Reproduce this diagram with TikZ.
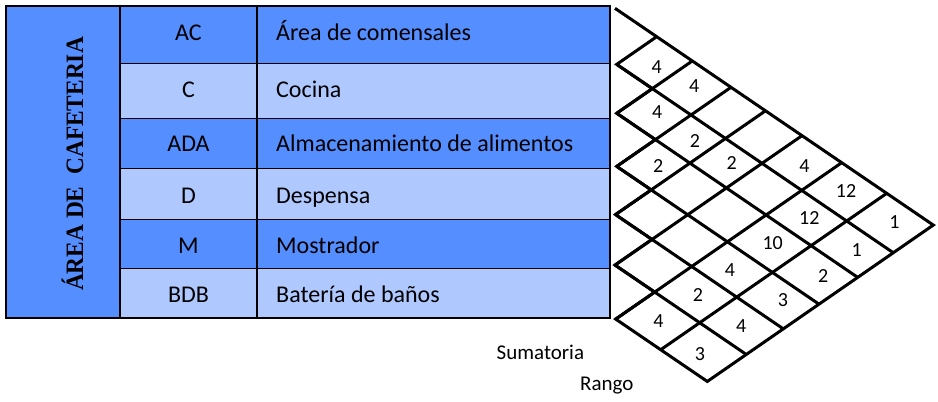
\documentclass[tikz,border=0pt]{standalone}
\usepackage{graphicx}
\usepackage{fontspec}
\setmainfont{Carlito}
\newfontfamily\titlefont{Liberation Serif}
\definecolor{dk}{RGB}{85,142,255}
\definecolor{lt}{RGB}{175,201,255}
\begin{document}
\begin{tikzpicture}[x=1pt,y=-1pt,
  cell/.style={inner sep=0pt, font=\fontsize{24}{29}\selectfont},
  num/.style={inner sep=0pt, font=\fontsize{20}{24}\selectfont},
  side/.style={inner sep=0pt, font=\fontsize{21}{25}\selectfont},
  gridline/.style={line width=3pt, line join=miter},
  rowline/.style={line width=1.2pt},
  colline/.style={line width=1.6pt},
  border/.style={line width=2.2pt}]
\useasboundingbox (0,0) rectangle (938,402);
% table fills
\fill[dk] (6,5.7) rectangle (120,318.3);
\fill[dk] (120,5.7) rectangle (610,63.3);
\fill[lt] (120,63.3) rectangle (610,118.3);
\fill[dk] (120,118.3) rectangle (610,168.3);
\fill[lt] (120,168.3) rectangle (610,219.3);
\fill[dk] (120,219.3) rectangle (610,268.3);
\fill[lt] (120,268.3) rectangle (610,318.3);
\foreach \yy in {63.3,118.3,168.3,219.3,268.3} \draw[rowline] (120,\yy) -- (610,\yy);
\draw[colline] (120,5.7) -- (120,318.3);
\draw[colline] (257,5.7) -- (257,318.3);
\draw[border] (6,5.7) rectangle (610,318.3);
% title
\node[rotate=90, anchor=base, inner sep=0pt] (title) at (83,164)
  {\titlefont\bfseries\fontsize{25}{30}\selectfont\scalebox{0.935}[1]{ÁREA DE\ \ CAFETERIA}};
% table text
\node[cell, anchor=base] (c1) at (188.5,40.7) {AC};
\node[cell, anchor=base] (c2) at (188.5,97.3) {C};
\node[cell, anchor=base] (c3) at (188.5,151.7) {ADA};
\node[cell, anchor=base] (c4) at (188.5,203.3) {D};
\node[cell, anchor=base] (c5) at (188.5,253.3) {M};
\node[cell, anchor=base] (c6) at (188.5,302.7) {BDB};
\node[cell, anchor=base west] (d1) at (276,40.7) {Área de comensales};
\node[cell, anchor=base west] (d2) at (276,97.3) {Cocina};
\node[cell, anchor=base west] (d3) at (276,151.7) {Almacenamiento de alimentos};
\node[cell, anchor=base west] (d4) at (276,203.3) {Despensa};
\node[cell, anchor=base west] (d5) at (276,253.3) {Mostrador};
\node[cell, anchor=base west] (d6) at (276,302.7) {Batería de baños};
% lattice vertices
\foreach \p/\s in {0/0,1/41.7,2/77.3,3/116,4/150.5,5/187,6/226.7,7/271.7,8/318.3}{
  \foreach \k/\t in {0/0,1/40,2/75.6,3/114.3,4/150,5/187,6/226}{
    \coordinate (v\p-\k) at ({615+\s-\t},{8.3+0.681*\s+0.692*\t});
  }
}
% outline
\draw[gridline] (v0-0) -- (v8-0) -- (v8-6) -- (v6-6) -- (v6-5) -- (v5-5) -- (v5-4)
  -- (v4-4) -- (v4-3) -- (v3-3) -- (v3-2) -- (v2-2) -- (v2-1) -- (v1-1) -- (v1-0);
% interior lines
\foreach \k in {1,...,5} \draw[gridline] (v\k-\k) -- (v8-\k);
\foreach \k in {2,...,6} \draw[gridline] (v\k-\k) -- (v\k-0);
\draw[gridline] (v7-6) -- (v7-0);
% values
\node[num] (n11) at (656.7,66.7) {4};
\node[num] (n21) at (694.3,86.3) {4};
\node[num] (n51) at (804.5,166) {4};
\node[num] (n61) at (846,191.5) {12};
\node[num] (n71) at (894.5,222.5) {1};
\node[num] (n22) at (657.3,112.5) {4};
\node[num] (n32) at (695,141) {2};
\node[num] (n42) at (731.7,163.3) {2};
\node[num] (n62) at (809.3,218) {12};
\node[num] (n72) at (856.7,250) {1};
\node[num] (n33) at (658.3,166.2) {2};
\node[num] (n63) at (772.7,242.7) {10};
\node[num] (n73) at (823.3,275.7) {2};
\node[num] (n64) at (730,270) {4};
\node[num] (n74) at (783,300.3) {3};
\node[num] (n65) at (698,295.5) {2};
\node[num] (n75) at (741.3,326) {4};
\node[num] (n66) at (658.5,321) {4};
\node[num] (n76) at (700,354.5) {3};
% side labels
\node[side, anchor=base west] (sum) at (496.5,359.5) {Sumatoria};
\node[side, anchor=base west] (rng) at (580,390.7) {Rango};
\end{tikzpicture}
\end{document}
